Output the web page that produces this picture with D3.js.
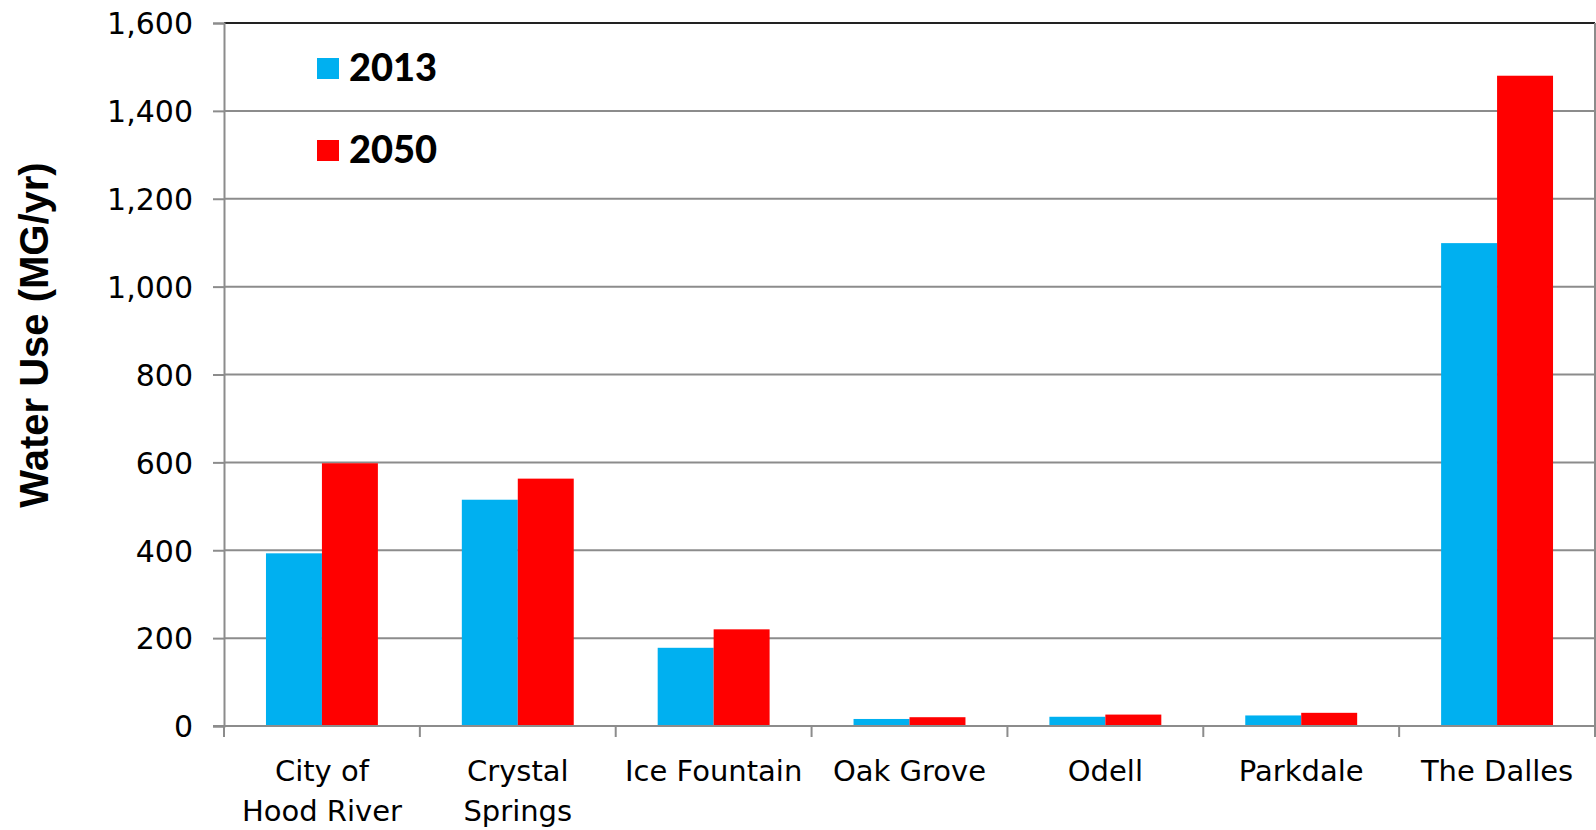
<!DOCTYPE html>
<html>
<head>
<meta charset="utf-8">
<script src="https://cdn.jsdelivr.net/npm/d3@7"></script>
<style>
  html, body { margin: 0; padding: 0; background: #fff; }
  svg { display: block; }
</style>
</head>
<body>
<svg id="chart" width="1596" height="830"></svg>
<script>
// Water use by provider, million gallons per year
const categories = [["City of", "Hood River"], ["Crystal", "Springs"], ["Ice Fountain"], ["Oak Grove"], ["Odell"], ["Parkdale"], ["The Dalles"]];
const values2013 = [393, 515, 178, 16, 21, 24, 1099];
const values2050 = [598, 563, 220, 20, 26, 30, 1480];
const seriesNames = ["2013", "2050"];
const seriesColors = ["#00B0F0", "#FF0000"];
const yTicks = [0, 200, 400, 600, 800, 1000, 1200, 1400, 1600];

const svg = d3.select("#chart");
const margin = { left: 224, right: 1, top: 23, bottom: 104 };
const W = 1596, H = 830;
const x0 = margin.left, x1 = W - margin.right;
const yTop = margin.top, yBot = H - margin.bottom;

const labelFont = "'Century Gothic', 'URW Gothic', 'DejaVu Sans', sans-serif";

const x = d3.scaleBand().domain(d3.range(categories.length)).range([x0, x1]).paddingInner(0).paddingOuter(0);
const inner = d3.scaleBand().domain([0, 1]).range([0, x.bandwidth()]).paddingOuter(0.75).paddingInner(0);
const y = d3.scaleLinear().domain([0, 1600]).range([yBot, yTop]);

// Gridlines
svg.append("g").selectAll("line").data(yTicks.slice(1)).join("line")
  .attr("x1", x0).attr("x2", x1)
  .attr("y1", d => y(d)).attr("y2", d => y(d))
  .attr("stroke", d => d === 1600 ? "#222" : "#8c8c8c")
  .attr("stroke-width", 2);

// Right border
svg.append("line").attr("x1", x1).attr("x2", x1).attr("y1", yTop).attr("y2", yBot)
  .attr("stroke", "#8c8c8c").attr("stroke-width", 2);

// Bars
const series = [values2013, values2050];
series.forEach((vals, s) => {
  svg.append("g").selectAll("rect").data(vals).join("rect")
    .attr("x", (d, i) => x(i) + inner(s))
    .attr("width", inner.bandwidth())
    .attr("y", d => y(d))
    .attr("height", d => yBot - y(d))
    .attr("fill", seriesColors[s]);
});

// Y axis
const yAxis = d3.axisLeft(y).tickValues(yTicks).tickSize(11).tickPadding(20).tickFormat(d3.format(","));
const gy = svg.append("g").attr("transform", `translate(${x0},0)`).call(yAxis);
gy.select(".domain").attr("stroke", "#8c8c8c").attr("stroke-width", 2);
gy.selectAll(".tick line").attr("stroke", "#8c8c8c").attr("stroke-width", 2);
gy.selectAll(".tick text").attr("font-family", labelFont).attr("font-size", 30).attr("fill", "#000")
  .attr("dy", "0.36em");

// X axis baseline and category ticks
svg.append("line").attr("x1", x0 - 11).attr("x2", x1).attr("y1", yBot).attr("y2", yBot)
  .attr("stroke", "#8c8c8c").attr("stroke-width", 2);
const tickXs = d3.range(categories.length + 1).map(i => i < categories.length ? x(i) : x1);
svg.append("g").selectAll("line").data(tickXs).join("line")
  .attr("x1", d => d).attr("x2", d => d)
  .attr("y1", yBot).attr("y2", yBot + 11)
  .attr("stroke", "#8c8c8c").attr("stroke-width", 2);

// Category labels
const xl = svg.append("g").selectAll("text").data(categories).join("text")
  .attr("x", (d, i) => x(i) + x.bandwidth() / 2)
  .attr("y", yBot + 55)
  .attr("text-anchor", "middle")
  .attr("font-family", labelFont).attr("font-size", 29).attr("fill", "#000");
xl.selectAll("tspan").data(d => d).join("tspan")
  .attr("x", function () { return this.parentNode.getAttribute("x"); })
  .attr("dy", (d, i) => i === 0 ? 0 : 40)
  .text(d => d);

// Y axis title
svg.append("text")
  .attr("transform", `translate(48, 335) rotate(-90)`)
  .attr("text-anchor", "middle")
  .attr("font-family", "'Liberation Sans', Arial, sans-serif")
  .attr("font-weight", "bold").attr("font-size", 40).attr("fill", "#000")
  .text("Water Use (MG/yr)");

// Legend
const legend = svg.append("g").selectAll("g").data(seriesNames).join("g")
  .attr("transform", (d, i) => `translate(317, ${58 + i * 82})`);
legend.append("rect").attr("width", 22).attr("height", 21).attr("fill", (d, i) => seriesColors[i]);
legend.append("text").attr("x", 32).attr("y", 23)
  .attr("font-family", "Lato, 'DejaVu Sans', sans-serif").attr("font-weight", 900).attr("font-size", 38).attr("fill", "#000")
  .text(d => d);
</script>
</body>
</html>
